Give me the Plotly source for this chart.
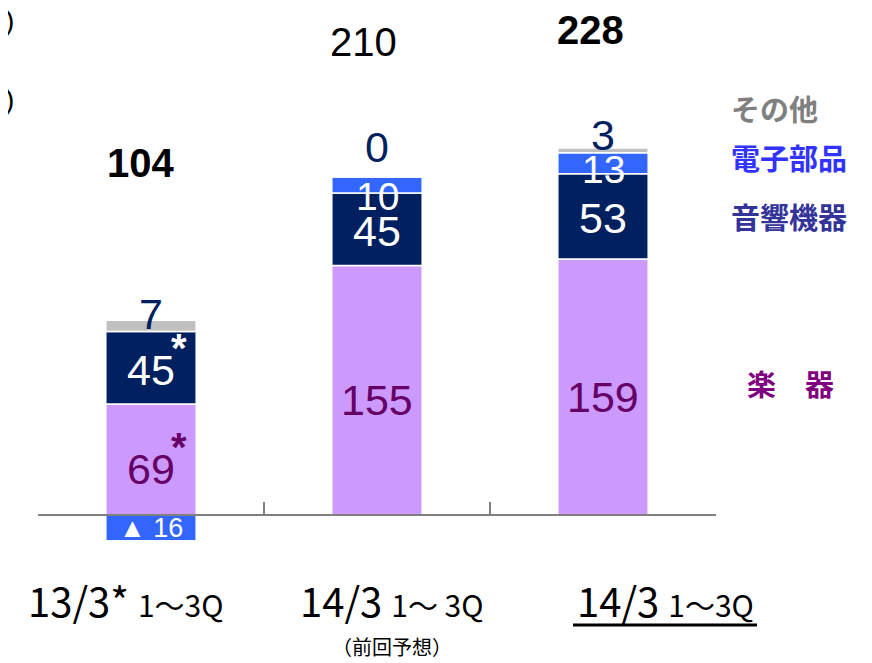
import plotly.graph_objects as go

# ---- data ----
categories = ["13/3*", "14/3 (前回予想)", "14/3"]
instruments = [69, 155, 159]      # 楽器
audio = [45, 45, 53]              # 音響機器
electronic = [-16, 10, 13]        # 電子部品
others = [7, 0, 3]                # その他
totals = [104, 210, 228]
segment_names = ["楽器", "音響機器", "電子部品", "その他"]
cat_main = ["13/3*", "14/3", "14/3"]
cat_sub = ["1～3Q", "1～ 3Q", "1～3Q"]

# ---- style ----
C_PURPLE = "#CC99FF"
C_NAVY = "#002060"
C_BLUE = "#3366FF"
C_GRAY = "#C0C0C0"
NUM_FONT = "Liberation Sans, Arial, sans-serif"
JP_FONT = "Noto Sans CJK JP, sans-serif"

OFF = 8  # page body margin
W, H = 872, 663
ML, MR, MT, MB = 38 - OFF, 156 + OFF, 20 - OFF, 100 + OFF
YMIN, YMAX = -29.8, 307.5
plot_w = W - ML - MR
plot_h = H - MT - MB


def px_x(p):
    return (p - OFF - ML) / plot_w


def px_y(p):
    return (H - MB - (p - OFF)) / plot_h


fig = go.Figure()
series = [
    (segment_names[0], instruments, C_PURPLE),
    (segment_names[1], audio, C_NAVY),
    (segment_names[2], electronic, C_BLUE),
    (segment_names[3], others, C_GRAY),
]
for name, vals, col in series:
    fig.add_trace(go.Bar(
        x=categories, y=vals, name=name, width=0.4,
        marker=dict(color=col, line=dict(color="white", width=1.5)),
        hoverinfo="skip",
    ))

ann = []
for i, c in enumerate(categories):
    pos_top = sum(v for v in (instruments[i], audio[i], electronic[i], others[i]) if v > 0)
    # 楽器
    ann.append(dict(x=c, y=instruments[i] / 2, text=str(instruments[i]), yshift=-10,
                    font=dict(family=NUM_FONT, size=43, color="#660066")))
    # 音響機器
    ann.append(dict(x=c, y=instruments[i] + audio[i] / 2, text=str(audio[i]), yshift=-2,
                    font=dict(family=NUM_FONT, size=43, color="white")))
    # 電子部品
    if electronic[i] < 0:
        ann.append(dict(x=c, y=electronic[i] / 2, text="▲ " + str(-electronic[i]), yshift=0,
                        font=dict(family=NUM_FONT, size=27, color="white")))
    else:
        base = instruments[i] + audio[i]
        ann.append(dict(x=c, y=base + electronic[i] / 2, text=str(electronic[i]),
                        yshift=[0, -11, -6][i],
                        font=dict(family=NUM_FONT, size=39, color="white")))
    # その他
    ann.append(dict(x=c, y=pos_top, text=str(others[i]), yshift=[6, 30, 13][i],
                    font=dict(family=NUM_FONT, size=43, color=C_NAVY)))

# asterisks on first bar
ann.append(dict(x=categories[0], y=instruments[0] + audio[0] / 2, text="<b>*</b>", xshift=28, yshift=20,
                font=dict(family=NUM_FONT, size=40, color="white")))
ann.append(dict(x=categories[0], y=instruments[0] / 2, text="<b>*</b>", xshift=28, yshift=12,
                font=dict(family=NUM_FONT, size=40, color="#660066")))

for a in ann:
    a.update(xref="x", yref="y", showarrow=False, yanchor="middle")

# totals
total_y = [163, 42, 30]
total_bold = [True, False, True]
total_x = [140, 363, 590]
for i in range(3):
    t = f"<b>{totals[i]}</b>" if total_bold[i] else str(totals[i])
    ann.append(dict(xref="paper", yref="paper", x=px_x(total_x[i]), y=px_y(total_y[i]),
                    text=t, showarrow=False, xanchor="center", yanchor="middle",
                    font=dict(family=NUM_FONT, size=40, color="black")))

# segment name labels on the right
legend_items = [
    ("その他", 729, 108, "#808080"),
    ("電子部品", 729, 157, "#3333FF"),
    ("音響機器", 729, 216, "#333399"),
    ("楽　器", 745, 383, "#800080"),
]
for txt, lx, ly, col in legend_items:
    ann.append(dict(xref="paper", yref="paper", x=px_x(lx), y=px_y(ly), text=f"<b>{txt}</b>",
                    showarrow=False, xanchor="left", yanchor="middle",
                    font=dict(family=JP_FONT, size=29, color=col)))

# category labels
cat_x = [126, 392, 665]
for i in range(3):
    txt = (f"<span style='font-size:40px'>{cat_main[i]}</span> "
           f"<span style='font-size:30px'>{cat_sub[i]}</span>")
    ann.append(dict(xref="paper", yref="paper", x=px_x(cat_x[i]), y=px_y(600), text=txt,
                    showarrow=False, xanchor="center", yanchor="middle",
                    font=dict(family=JP_FONT, size=40, color="black")))
ann.append(dict(xref="paper", yref="paper", x=px_x(392), y=px_y(646), text="（前回予想）",
                showarrow=False, xanchor="center", yanchor="middle",
                font=dict(family=JP_FONT, size=20, color="black")))

# cut-off unit captions at the top left
for ly in (20, 100):
    ann.append(dict(xref="paper", yref="paper", x=px_x(16), y=px_y(ly), text="(Billions)",
                    showarrow=False, xanchor="right", yanchor="middle",
                    font=dict(family=NUM_FONT, size=28, color="black")))

# underline of the current-period label
shapes = [dict(type="line", xref="paper", yref="paper",
               x0=px_x(573), x1=px_x(757), y0=px_y(625), y1=px_y(625),
               line=dict(color="black", width=3))]

fig.update_layout(
    width=W, height=H,
    margin=dict(l=ML, r=MR, t=MT, b=MB, pad=0),
    paper_bgcolor="white", plot_bgcolor="white",
    barmode="relative", showlegend=False,
    annotations=ann, shapes=shapes,
    xaxis=dict(
        type="category", range=[-0.5, 2.5], anchor="free",
        position=(0 - YMIN) / (YMAX - YMIN),
        showline=True, linecolor="#808080", linewidth=2,
        ticks="inside", tickson="boundaries", ticklen=12, tickwidth=1.5, tickcolor="#808080",
        showticklabels=False, showgrid=False, zeroline=False,
    ),
    yaxis=dict(range=[YMIN, YMAX], visible=False, showgrid=False, zeroline=False),
)

fig.write_html("out.html")
